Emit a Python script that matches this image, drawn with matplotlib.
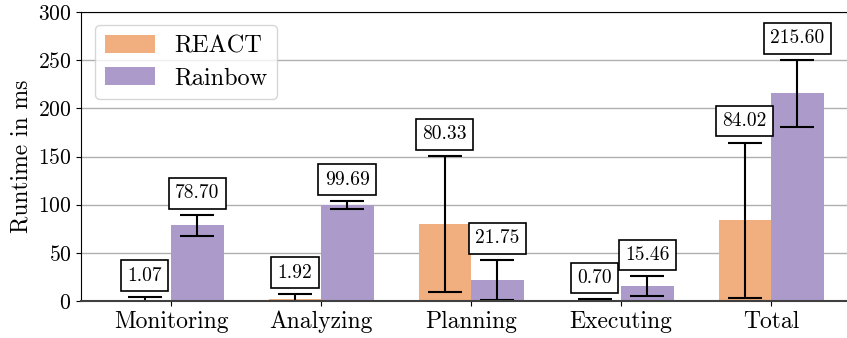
import matplotlib
matplotlib.use("Agg")
import matplotlib.pyplot as plt
import numpy as np

# Runtime per MAPE-K phase (ms): mean and standard deviation
phases = ["Monitoring", "Analyzing", "Planning", "Executing", "Total"]
react_mean = [1.07, 1.92, 80.33, 0.70, 84.02]
react_std = [3.0, 5.0, 70.5, 1.0, 80.5]
rainbow_mean = [78.70, 99.69, 21.75, 15.46, 215.60]
rainbow_std = [11.0, 4.0, 21.0, 10.0, 35.0]
series_names = ["REACT", "Rainbow"]
colors = ["#f1ae7e", "#ac9bca"]

plt.rcParams["font.family"] = ["cmr10", "DejaVu Serif"]
plt.rcParams["axes.formatter.use_mathtext"] = True
plt.rcParams["mathtext.fontset"] = "cm"

fig = plt.figure(figsize=(8.47, 3.38), dpi=100)
ax = fig.add_axes([81 / 847, 1 - 301 / 338, 780 / 847, 289 / 338])

x = np.arange(len(phases))
w = 0.35
groups = [(react_mean, react_std), (rainbow_mean, rainbow_std)]
for k, ((mean, std), name, col) in enumerate(zip(groups, series_names, colors)):
    pos = x + (k - 0.5) * w
    ax.bar(pos, mean, width=w, color=col, label=name, zorder=2)
    ax.errorbar(pos, mean, yerr=std, fmt="none", ecolor="black",
                elinewidth=1.5, capsize=12, capthick=1.5, zorder=3)
    for xi, m, s in zip(pos, mean, std):
        ax.annotate(f"{m:.2f}", xy=(xi, m + s), xytext=(0, 9),
                    textcoords="offset points", ha="center", va="bottom",
                    fontsize=14, zorder=5 + k,
                    bbox=dict(boxstyle="square,pad=0.33", fc="white",
                              ec="black", lw=1.2))

ax.set_xlim(-0.6, 4.6)
ax.set_ylim(0, 300)
ax.set_yticks(np.arange(0, 301, 50))
ax.set_xticks(x)
ax.set_xticklabels(phases, fontsize=17)
ax.tick_params(axis="y", labelsize=15.5)
ax.set_ylabel("Runtime in ms", fontsize=17)
ax.yaxis.grid(True, color="#b0b0b0", lw=1.0, zorder=0)
ax.set_axisbelow(True)
ax.spines["right"].set_visible(False)
ax.spines["bottom"].set_color("#404040")
ax.spines["bottom"].set_linewidth(1.5)
ax.spines["bottom"].set_zorder(4)

leg = ax.legend(loc="upper left", fontsize=17.5, frameon=True,
                handlelength=2.05, handleheight=0.75, handletextpad=0.8,
                borderpad=0.4, labelspacing=0.4, borderaxespad=0.0,
                bbox_to_anchor=(0.018, 0.955))
leg.get_frame().set_edgecolor("#cccccc")

fig.savefig("out.png", dpi=100)
